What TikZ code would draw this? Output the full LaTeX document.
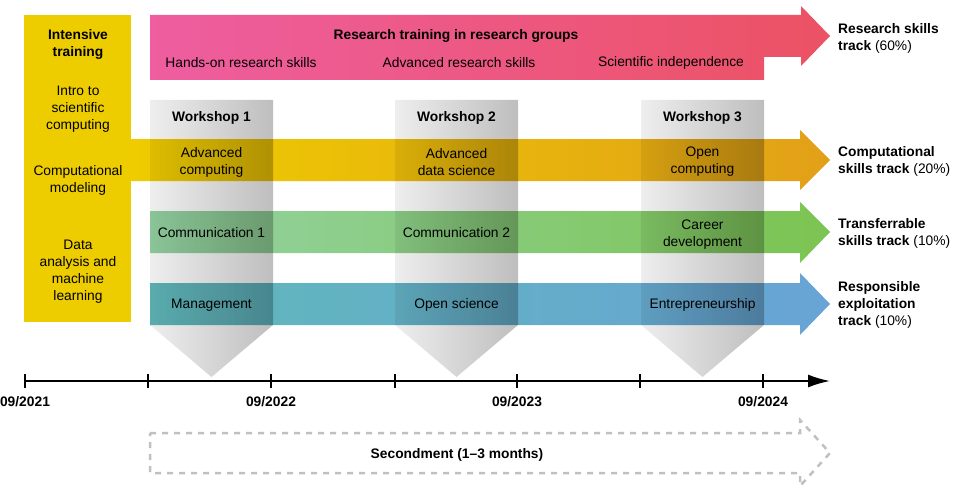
\documentclass[tikz,border=0pt]{standalone}
\usepackage{fontspec}
\setmainfont{Liberation Sans}
\usetikzlibrary{arrows.meta}
\definecolor{pinkL}{RGB}{238,94,160}
\definecolor{pinkR}{RGB}{236,82,100}
\definecolor{yelBox}{RGB}{238,205,0}
\definecolor{yelL}{RGB}{238,204,0}
\definecolor{yelR}{RGB}{226,160,24}
\definecolor{grnL}{RGB}{148,210,162}
\definecolor{grnR}{RGB}{124,196,82}
\definecolor{bluL}{RGB}{96,184,186}
\definecolor{bluR}{RGB}{104,164,214}
\definecolor{wsL}{RGB}{238,238,238}
\definecolor{wsR}{RGB}{190,190,190}
\definecolor{dashgray}{RGB}{192,192,192}
\begin{document}
\begin{tikzpicture}[x=1pt,y=-1pt,
  txt/.style={font=\fontsize{13.8}{17}\selectfont, align=center, inner sep=0pt, yshift=-2pt},
  btxt/.style={font=\fontsize{13.8}{17}\selectfont\bfseries, align=center, inner sep=0pt, yshift=-2pt},
  rtxt/.style={font=\fontsize{13.8}{17}\selectfont, align=left, anchor=west, inner sep=0pt, yshift=-1.5pt},
  tick/.style={line width=1.6pt},
  wsbox/.style={left color=wsL, right color=wsR, blend mode=multiply}]
\useasboundingbox (0,0) rectangle (955,492);

% research track (pink)
\shade[left color=pinkL, right color=pinkR] (150,15) -- (801,15) -- (801,6) -- (830,36) -- (801,66) -- (801,57) -- (764,57) -- (764,80) -- (150,80) -- cycle;
% intensive training box
\fill[yelBox] (24,15) rectangle (131,322);
% computational track
\shade[left color=yelL, right color=yelR] (131,139) -- (800,139) -- (800,130) -- (830,160) -- (800,190) -- (800,181) -- (131,181) -- cycle;
% transferable track
\shade[left color=grnL, right color=grnR] (150,211) -- (800,211) -- (800,202) -- (830,232) -- (800,263) -- (800,253) -- (150,253) -- cycle;
% exploitation track
\shade[left color=bluL, right color=bluR] (150,283) -- (800,283) -- (800,273) -- (830,304) -- (800,335) -- (800,325) -- (150,325) -- cycle;

% workshops
\foreach \a/\n in {150/1,395/2,641/3}{
  \shade[wsbox] (\a,100) -- (\a+123,100) -- (\a+123,325) -- (\a+61.5,377) -- (\a,325) -- cycle;
  \node[btxt] (ws\n) at (\a+61.5,116) {Workshop \n};
}

% pink texts
\node[btxt] (rtg) at (456,34) {Research training in research groups};
\node[txt] (hands) at (241,61) {Hands-on research skills};
\node[txt] (advr) at (459,61) {Advanced research skills};
\node[txt] (sind) at (671,61) {Scientific independence};

% intensive training texts
\node[btxt] (intens) at (78,42.5) {Intensive\\training};
\node[txt] (intro) at (78,107) {Intro to\\scientific\\computing};
\node[txt] (cmod) at (78,178.5) {Computational\\modeling};
\node[txt] (data) at (78,269.5) {Data\\analysis and\\machine\\learning};

% track texts
\node[txt] (ac) at (211.5,160) {Advanced\\computing};
\node[txt] (ads) at (456.5,160) {Advanced\\data science};
\node[txt] (oc) at (702.5,160) {Open\\computing};
\node[txt] (c1) at (211.5,231) {Communication 1};
\node[txt] (c2) at (456.5,231) {Communication 2};
\node[txt] (cd) at (702.5,232.5) {Career\\development};
\node[txt] (mg) at (211.5,303) {Management};
\node[txt] (os) at (456.5,303) {Open science};
\node[txt] (ent) at (702.5,303) {Entrepreneurship};

% right labels
\node[rtxt] (l1) at (838,37) {\textbf{Research skills}\\\textbf{track} (60\%)};
\node[rtxt] (l2) at (838,159.5) {\textbf{Computational}\\\textbf{skills track} (20\%)};
\node[rtxt] (l3) at (838,231.5) {\textbf{Transferrable}\\\textbf{skills track} (10\%)};
\node[rtxt] (l4) at (838,303.5) {\textbf{Responsible}\\\textbf{exploitation}\\\textbf{track} (10\%)};

% timeline
\coordinate (t0) at (25,381);
\coordinate (tend) at (830,381);
\draw[line width=1.8pt, -{Latex[length=22pt,width=13pt]}] (t0) -- (tend);
\foreach \x in {25,148,271,395,517,640,763}{
  \draw[tick] (\x,374) -- (\x,388);
}
\node[btxt] (y1) at (25,400) {09/2021};
\node[btxt] (y2) at (271,400) {09/2022};
\node[btxt] (y3) at (517,400) {09/2023};
\node[btxt] (y4) at (763,400) {09/2024};

% secondment
\draw[dashgray, line width=2.5pt, dash pattern=on 6pt off 6pt] (150,433) -- (800,433) -- (800,420) -- (830,453) -- (800,486) -- (800,473) -- (150,473) -- cycle;
\node[btxt] (sec) at (457,453) {Secondment (1–3 months)};
\end{tikzpicture}
\end{document}
